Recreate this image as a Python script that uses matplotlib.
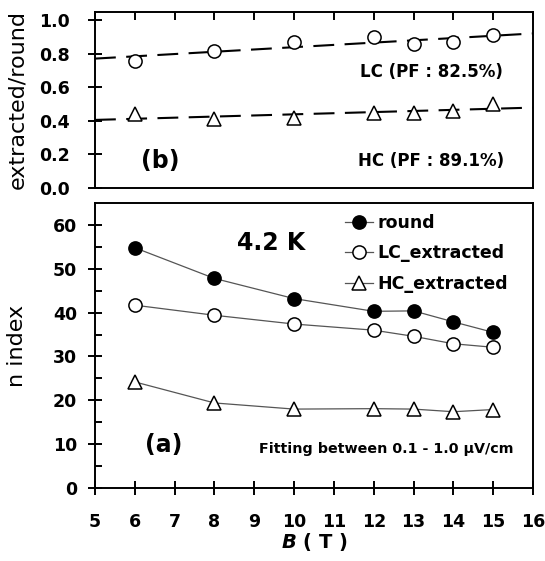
"""
Two-panel figure: n index vs B (a) and extracted/round ratio with linear fits (b).
"""
import matplotlib
matplotlib.use("Agg")
import matplotlib.pyplot as plt
import numpy as np

plt.rcParams["font.family"] = ["DejaVu Sans"]
plt.rcParams["font.weight"] = "bold"
plt.rcParams["mathtext.fontset"] = "dejavusans"

# field values (T)
B_FIELD = [6, 8, 10, 12, 13, 14, 15]

# n index, panel (a)
N_ROUND = [54.8, 47.8, 43.2, 40.3, 40.4, 37.9, 35.5]
N_LC = [41.7, 39.4, 37.4, 36.0, 34.6, 32.9, 32.1]
N_HC = [24.2, 19.4, 18.0, 18.1, 18.0, 17.4, 17.9]

# extracted/round ratio, panel (b)
RATIO_LC = [0.76, 0.82, 0.87, 0.90, 0.86, 0.87, 0.91]
RATIO_HC = [0.44, 0.41, 0.42, 0.45, 0.45, 0.46, 0.50]

X_TICKS = list(range(5, 17))

fig = plt.figure(figsize=(5.45, 5.61), dpi=100)
ax_b = fig.add_axes([0.1743, 0.6649, 0.8037, 0.3137])
ax_a = fig.add_axes([0.1743, 0.1301, 0.8037, 0.5080])

for ax in (ax_a, ax_b):
    for sp in ax.spines.values():
        sp.set_linewidth(1.4)
    ax.set_xlim(5, 16)
    ax.set_xticks(X_TICKS)

mk = dict(markersize=9.5, markeredgewidth=1.1, markeredgecolor="black")

# ---- panel (b) ----
xfit = np.array([5, 16])
for ratio, marker in ((RATIO_LC, "o"), (RATIO_HC, "^")):
    p = np.polyfit(B_FIELD, ratio, 1)
    ax_b.plot(xfit, np.polyval(p, xfit), color="black", lw=1.5,
              dashes=(10, 5), zorder=2)
    ax_b.plot(B_FIELD, ratio, linestyle="none", marker=marker,
              markerfacecolor="white", zorder=3, **mk)

ax_b.set_ylim(0, 1.05)
ax_b.set_yticks([0.0, 0.2, 0.4, 0.6, 0.8, 1.0])
ax_b.set_yticklabels(["0.0", "0.2", "0.4", "0.6", "0.8", "1.0"])
ax_b.tick_params(axis="y", direction="inout", length=10, width=1.4,
                 labelsize=12.5, pad=13)
ax_b.tick_params(axis="x", direction="in", length=6, width=1.4,
                 top=True, bottom=False, labelbottom=False)
ax_b.set_ylabel("extracted/round", fontsize=16, fontweight="normal")
ax_b.yaxis.set_label_coords(-0.155, 0.5)

ax_b.text(6.65, 0.16, "(b)", fontsize=17, fontweight="bold",
          ha="center", va="center")
ax_b.text(13.45, 0.69, "LC (PF : 82.5%)", fontsize=12, fontweight="bold",
          ha="center", va="center")
ax_b.text(13.45, 0.16, "HC (PF : 89.1%)", fontsize=12, fontweight="bold",
          ha="center", va="center")

# ---- panel (a) ----
line_kw = dict(color="#555555", lw=0.9)
ax_a.plot(B_FIELD, N_ROUND, marker="o", markerfacecolor="black",
          label="round", **line_kw, **mk)
ax_a.plot(B_FIELD, N_LC, marker="o", markerfacecolor="white",
          label="LC_extracted", **line_kw, **mk)
ax_a.plot(B_FIELD, N_HC, marker="^", markerfacecolor="white",
          label="HC_extracted", **line_kw, **mk)

ax_a.set_ylim(0, 65)
ax_a.set_yticks(range(0, 61, 10))
ax_a.set_yticks(range(5, 61, 10), minor=True)
ax_a.tick_params(axis="both", which="major", direction="inout", length=10,
                 width=1.4, labelsize=12.5)
ax_a.tick_params(axis="x", pad=13)
ax_a.tick_params(axis="y", pad=8)
ax_a.tick_params(axis="y", which="minor", direction="in", length=5, width=1.4)
ax_a.set_ylabel("n index", fontsize=16, fontweight="normal")
ax_a.yaxis.set_label_coords(-0.155, 0.5)
ax_a.set_xlabel(r"$\mathbfit{B}$ ( T )", fontsize=14, fontweight="bold",
                labelpad=0)

ax_a.text(9.42, 55.9, "4.2 K", fontsize=17, fontweight="bold",
          ha="center", va="center")
ax_a.text(6.73, 9.7, "(a)", fontsize=17, fontweight="bold",
          ha="center", va="center")
ax_a.text(15.5, 8.8, "Fitting between 0.1 - 1.0 \u03bcV/cm", fontsize=10.3,
          fontweight="bold", ha="right", va="center")

leg = ax_a.legend(loc="upper left", bbox_to_anchor=(0.555, 0.986),
                  frameon=False, fontsize=12.5, handlelength=1.6,
                  handletextpad=0.25, labelspacing=0.72, borderaxespad=0)
for t in leg.get_texts():
    t.set_fontweight("bold")

fig.savefig("out.png", dpi=100)
